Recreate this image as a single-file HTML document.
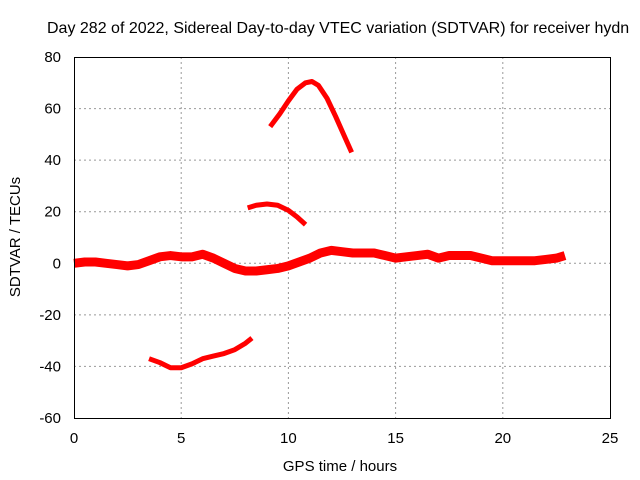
<!DOCTYPE html>
<html><head><meta charset="utf-8"><style>
body{margin:0;background:#fff}
svg{display:block;font-family:"Liberation Sans",sans-serif;font-size:15px}
</style></head><body>
<svg id="c" width="640" height="480">
<text x="47" y="33" font-size="16">Day 282 of 2022, Sidereal Day-to-day VTEC variation (SDTVAR) for receiver hydn</text>
<g id="grid"></g><g id="ticks"></g><g id="series"></g>
<rect x="74.5" y="57.5" width="536" height="361" fill="none" stroke="#000" stroke-width="1"/>
<text x="20" y="237" transform="rotate(-90 20 237)" text-anchor="middle">SDTVAR / TECUs</text>
<text x="340" y="471" text-anchor="middle">GPS time / hours</text>
</svg>
<script>
const xTicks=[0,5,10,15,20,25];
const yTicks=[80,60,40,20,0,-20,-40,-60];
const mainT=[0,0.5,1,1.5,2,2.5,3,3.5,4,4.5,5,5.5,6,6.5,7,7.5,8,8.5,9,9.5,10,10.5,11,11.5,12,12.5,13,13.5,14,14.5,15,15.5,16,16.5,17,17.5,18,18.5,19,19.5,20,20.5,21,21.5,22,22.5,22.9];
const mainV=[0,0.5,0.5,0,-0.5,-1,-0.5,1,2.5,3,2.5,2.5,3.5,2,0,-2,-3,-3,-2.5,-2,-1,0.5,2,4,5,4.5,4,4,4,3,2,2.5,3,3.5,2,3,3,3,2,1,1,1,1,1,1.5,2,3];
const arc1T=[9.15,9.6,10,10.4,10.8,11.1,11.4,11.8,12.2,12.6,12.95];
const arc1V=[53,58,63,67.5,70,70.5,69,64,57,49.5,43];
const arc2T=[8.1,8.5,9,9.5,10,10.4,10.8];
const arc2V=[21.5,22.5,23,22.5,20.5,18,15];
const arc3T=[3.5,4,4.5,5,5.5,6,6.5,7,7.5,8,8.3];
const arc3V=[-37,-38.5,-40.5,-40.5,-39,-37,-36,-35,-33.5,-31,-29];
const NS="http://www.w3.org/2000/svg";
const X=v=>74+v*536/25, Y=v=>57+(80-v)*361/140;
function mk(tag,attrs,parent){const e=document.createElementNS(NS,tag);for(const k in attrs)e.setAttribute(k,attrs[k]);document.getElementById(parent).appendChild(e);return e;}
xTicks.forEach(t=>{
  if(t>0&&t<25){const g=mk('line',{x1:X(t),x2:X(t),y1:57,y2:418,stroke:'#999','stroke-dasharray':'2,3'},'grid');
  
  }
  const l=mk('text',{x:X(t),y:443,'text-anchor':'middle'},'ticks');l.textContent=t;
  
  
});
yTicks.forEach(t=>{
  if(t<80&&t>-60){const g=mk('line',{x1:74,x2:610,y1:Y(t),y2:Y(t),stroke:'#999','stroke-dasharray':'2,3'},'grid');
  
  }
  const l=mk('text',{x:61,y:Y(t)+5,'text-anchor':'end'},'ticks');l.textContent=t;
  
  
});
function line(T,V,w,name){
  const p=mk('polyline',{points:T.map((t,i)=>X(t)+','+Y(V[i])).join(' '),fill:'none',stroke:'#f00','stroke-width':w,'stroke-linejoin':'round'},'series');
  
  
}
line(mainT,mainV,9,'main-series');
line(arc1T,arc1V,5,'arc-series-1');
line(arc2T,arc2V,5,'arc-series-2');
line(arc3T,arc3V,5,'arc-series-3');
</script>
</body></html>
